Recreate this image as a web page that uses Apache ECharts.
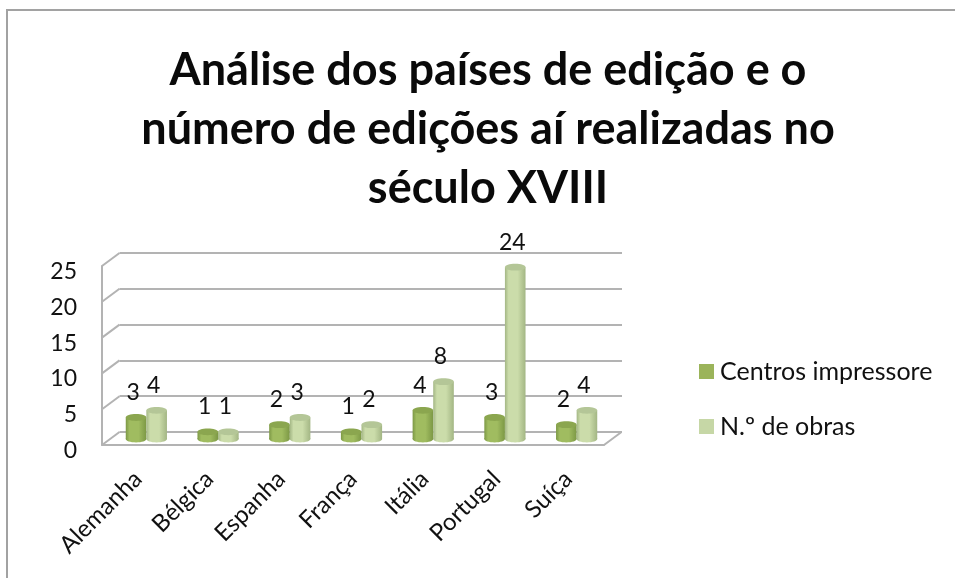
<!DOCTYPE html>
<html><head><meta charset="utf-8">
<script src="https://cdn.jsdelivr.net/npm/echarts@6/dist/echarts.min.js"></script>
<style>html,body{margin:0;padding:0;background:#fff}#c{width:955px;height:578px}</style>
</head><body><div id="c"></div>
<script>
const titleLines = ['Análise dos países de edição e o','número de edições aí realizadas no','século XVIII'];
const categories = ['Alemanha','Bélgica','Espanha','França','Itália','Portugal','Suíça'];
const centros = [3,1,2,1,4,3,2];
const obras = [4,1,3,2,8,24,4];
const yTicks = [0,5,10,15,20,25];
const seriesNames = ['Centros impressore','N.º de obras'];

const FONT = 'Lato';
const DEPTH_X = 17.5, DEPTH_Y = -13;
const BAR_SHIFT_X = 8.5, BAR_SHIFT_Y = -6, BAR_W = 20.6, RY = 3.4;
const GRID_COLOR = '#b3b3b3';

function cylinder(colors, side) {
  return function (params, api) {
    const cat = api.value(0), val = api.value(1);
    const top = api.coord([cat, val]);
    const base = api.coord([cat, 0]);
    const cx = top[0] + BAR_SHIFT_X + side * BAR_W / 2;
    const yTop = top[1] + BAR_SHIFT_Y, yBase = base[1] + BAR_SHIFT_Y;
    const grad = new echarts.graphic.LinearGradient(0, 0, 1, 0, [
      {offset: 0, color: colors.edge},
      {offset: 0.18, color: colors.body},
      {offset: 0.62, color: colors.body},
      {offset: 1, color: colors.edge}
    ]);
    return {type: 'group', children: [
      {type: 'ellipse', shape: {cx: cx, cy: yBase, rx: BAR_W / 2, ry: RY}, style: {fill: grad}},
      {type: 'rect', shape: {x: cx - BAR_W / 2, y: yTop, width: BAR_W, height: yBase - yTop}, style: {fill: grad}},
      {type: 'ellipse', shape: {cx: cx, cy: yTop, rx: BAR_W / 2, ry: RY}, style: {fill: colors.top}},
      {type: 'text', x: cx - 3, y: yTop - 25, style: {text: String(val), fontFamily: FONT, fontSize: 23, fill: '#111', align: 'center', verticalAlign: 'middle'}}
    ]};
  };
}
function pairs(arr){ return arr.map((v,i)=>[i,v]); }

const chart = echarts.init(document.getElementById('c'), null, {renderer:'canvas'});
chart.setOption({
  animation: false,
  backgroundColor: '#fff',
  title: {
    text: titleLines.join('\n'), left: 483, textAlign: 'center', top: 36,
    textStyle: {fontFamily: FONT, fontWeight: 'bold', fontSize: 45, lineHeight: 59, color: '#0a0a0a'}
  },
  legend: {
    orient: 'vertical', left: 699, top: 359, padding: 0, itemWidth: 15, itemHeight: 15, itemGap: 30,
    icon: 'rect', selectedMode: false,
    textStyle: {fontFamily: FONT, fontSize: 25, color: '#111', padding: [0,0,0,1]},
    data: seriesNames
  },
  grid: [
    {left: 102, width: 502, top: 266, height: 179},
    {left: 119.5, width: 502.5, top: 253, height: 179}
  ],
  xAxis: [
    {type: 'category', gridIndex: 0, data: categories,
     axisLine: {lineStyle: {color: GRID_COLOR, width: 2}}, axisTick: {show: false},
     axisLabel: {rotate: 45, interval: 0, margin: 30, fontFamily: FONT, fontSize: 24, color: '#111'}},
    {type: 'category', gridIndex: 1, data: categories, show: false}
  ],
  yAxis: [
    {type: 'value', gridIndex: 0, min: 0, max: 25, interval: 5,
     axisLine: {show: true, lineStyle: {color: GRID_COLOR, width: 2}}, axisTick: {show: false},
     splitLine: {show: false},
     axisLabel: {margin: 25, fontFamily: FONT, fontSize: 23, color: '#111', verticalAlign: 'top', lineHeight: 11}},
    {type: 'value', gridIndex: 1, min: 0, max: 25, interval: 5,
     axisLine: {show: false}, axisTick: {show: false}, axisLabel: {show: false},
     splitLine: {show: true, lineStyle: {color: GRID_COLOR, width: 2}}}
  ],
  series: [
    {type: 'custom', name: 'wall', silent: true, xAxisIndex: 0, yAxisIndex: 0, z: 1, clip: false,
     data: yTicks.map(t => [t]), encode: {y: 0},
     renderItem: function (params, api) {
       const t = api.value(0);
       const p = api.coord([0, t]);
       const x0 = params.coordSys.x;
       const lines = [{type: 'line', shape: {x1: x0, y1: p[1], x2: x0 + DEPTH_X, y2: p[1] + DEPTH_Y}, style: {stroke: GRID_COLOR, lineWidth: 2}}];
       if (t === 0) {
         const x1 = params.coordSys.x + params.coordSys.width;
         lines.push({type: 'line', shape: {x1: x1, y1: p[1], x2: x1 + DEPTH_X, y2: p[1] + DEPTH_Y}, style: {stroke: GRID_COLOR, lineWidth: 2}});
       }
       return {type: 'group', children: lines};
     }},
    {type: 'custom', name: seriesNames[0], silent: true, xAxisIndex: 0, yAxisIndex: 0, z: 3, clip: false,
     itemStyle: {color: '#9bb45a'}, data: pairs(centros), encode: {x: 0, y: 1},
     renderItem: cylinder({edge: '#7c9845', body: '#a0bc60', top: '#8ba64f'}, -1)},
    {type: 'custom', name: seriesNames[1], silent: true, xAxisIndex: 0, yAxisIndex: 0, z: 4, clip: false,
     itemStyle: {color: '#c6d7a6'}, data: pairs(obras), encode: {x: 0, y: 1},
     renderItem: cylinder({edge: '#a3b684', body: '#cbdcaa', top: '#b4c697'}, 1)}
  ],
  graphic: [
    {type: 'polyline', silent: true, shape: {points: [[7,578],[7,10],[955,10]]}, style: {stroke: '#a2a2a2', fill: null, lineWidth: 2}}
  ]
});
</script></body></html>
